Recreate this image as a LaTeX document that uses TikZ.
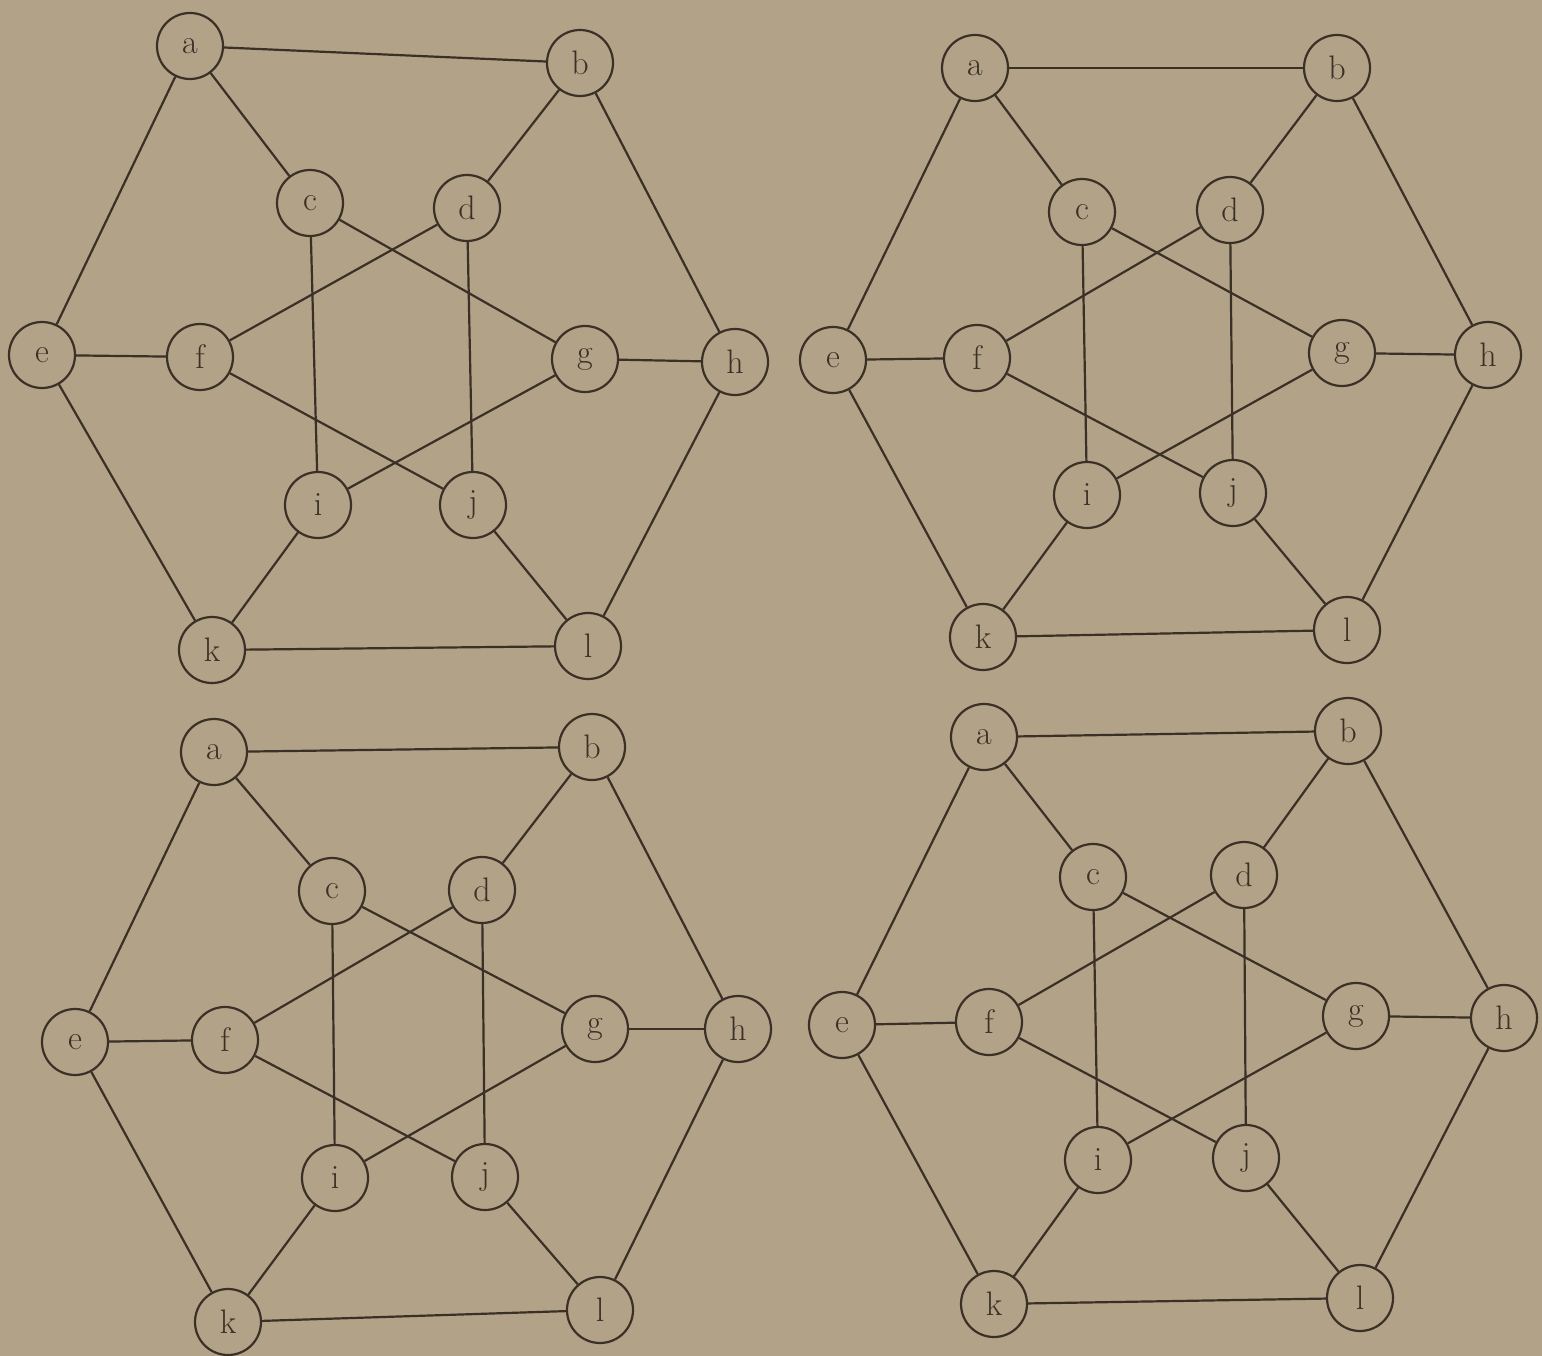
\documentclass[tikz,border=0pt]{standalone}
\definecolor{paper}{RGB}{178,162,136}
\definecolor{ink}{RGB}{58,48,38}
\tikzset{
  vtx/.style={circle,draw=ink,fill=paper,line width=2.2pt,minimum size=66pt,inner sep=0pt,
    text=ink,font=\fontsize{34}{40}\selectfont},
  edge/.style={draw=ink,line width=2.2pt}
}
\begin{document}
\begin{tikzpicture}[x=1pt,y=-1pt]
\fill[paper] (0,0) rectangle (1542,1356);
\useasboundingbox (0,0) rectangle (1542,1356);
% top left
\node[vtx] (TLa) at (190,46) {a};
\node[vtx] (TLb) at (580,63) {b};
\node[vtx] (TLc) at (310,203) {c};
\node[vtx] (TLd) at (467,208) {d};
\node[vtx] (TLe) at (42,355) {e};
\node[vtx] (TLf) at (200,357) {f};
\node[vtx] (TLg) at (585,359) {g};
\node[vtx] (TLh) at (735,362) {h};
\node[vtx] (TLi) at (318,505) {i};
\node[vtx] (TLj) at (473,505) {j};
\node[vtx] (TLk) at (212,650) {k};
\node[vtx] (TLl) at (588,646) {l};
% top right
\node[vtx] (TRa) at (975,68) {a};
\node[vtx] (TRb) at (1337,68) {b};
\node[vtx] (TRc) at (1082,212) {c};
\node[vtx] (TRd) at (1230,210) {d};
\node[vtx] (TRe) at (833,360) {e};
\node[vtx] (TRf) at (977,358) {f};
\node[vtx] (TRg) at (1342,353) {g};
\node[vtx] (TRh) at (1488,355) {h};
\node[vtx] (TRi) at (1087,495) {i};
\node[vtx] (TRj) at (1233,493) {j};
\node[vtx] (TRk) at (983,637) {k};
\node[vtx] (TRl) at (1347,630) {l};
% bottom left
\node[vtx] (BLa) at (214,752) {a};
\node[vtx] (BLb) at (592,747) {b};
\node[vtx] (BLc) at (332,891) {c};
\node[vtx] (BLd) at (482,890) {d};
\node[vtx] (BLe) at (75,1042) {e};
\node[vtx] (BLf) at (225,1040) {f};
\node[vtx] (BLg) at (595,1029) {g};
\node[vtx] (BLh) at (738,1029) {h};
\node[vtx] (BLi) at (335,1178) {i};
\node[vtx] (BLj) at (485,1177) {j};
\node[vtx] (BLk) at (228,1322) {k};
\node[vtx] (BLl) at (600,1310) {l};
% bottom right
\node[vtx] (BRa) at (984,737) {a};
\node[vtx] (BRb) at (1348,731) {b};
\node[vtx] (BRc) at (1093,877) {c};
\node[vtx] (BRd) at (1244,875) {d};
\node[vtx] (BRe) at (842,1025) {e};
\node[vtx] (BRf) at (989,1022) {f};
\node[vtx] (BRg) at (1356,1016) {g};
\node[vtx] (BRh) at (1504,1018) {h};
\node[vtx] (BRi) at (1098,1160) {i};
\node[vtx] (BRj) at (1246,1158) {j};
\node[vtx] (BRk) at (994,1304) {k};
\node[vtx] (BRl) at (1360,1298) {l};
% edges
\foreach \p in {TL,TR,BL,BR}{
  \foreach \u/\v in {a/b,a/c,a/e,b/d,b/h,c/i,c/g,d/f,d/j,e/f,e/k,f/j,g/h,g/i,h/l,i/k,j/l,k/l}{
    \draw[edge] (\p\u) -- (\p\v);
  }
}
\end{tikzpicture}
\end{document}
